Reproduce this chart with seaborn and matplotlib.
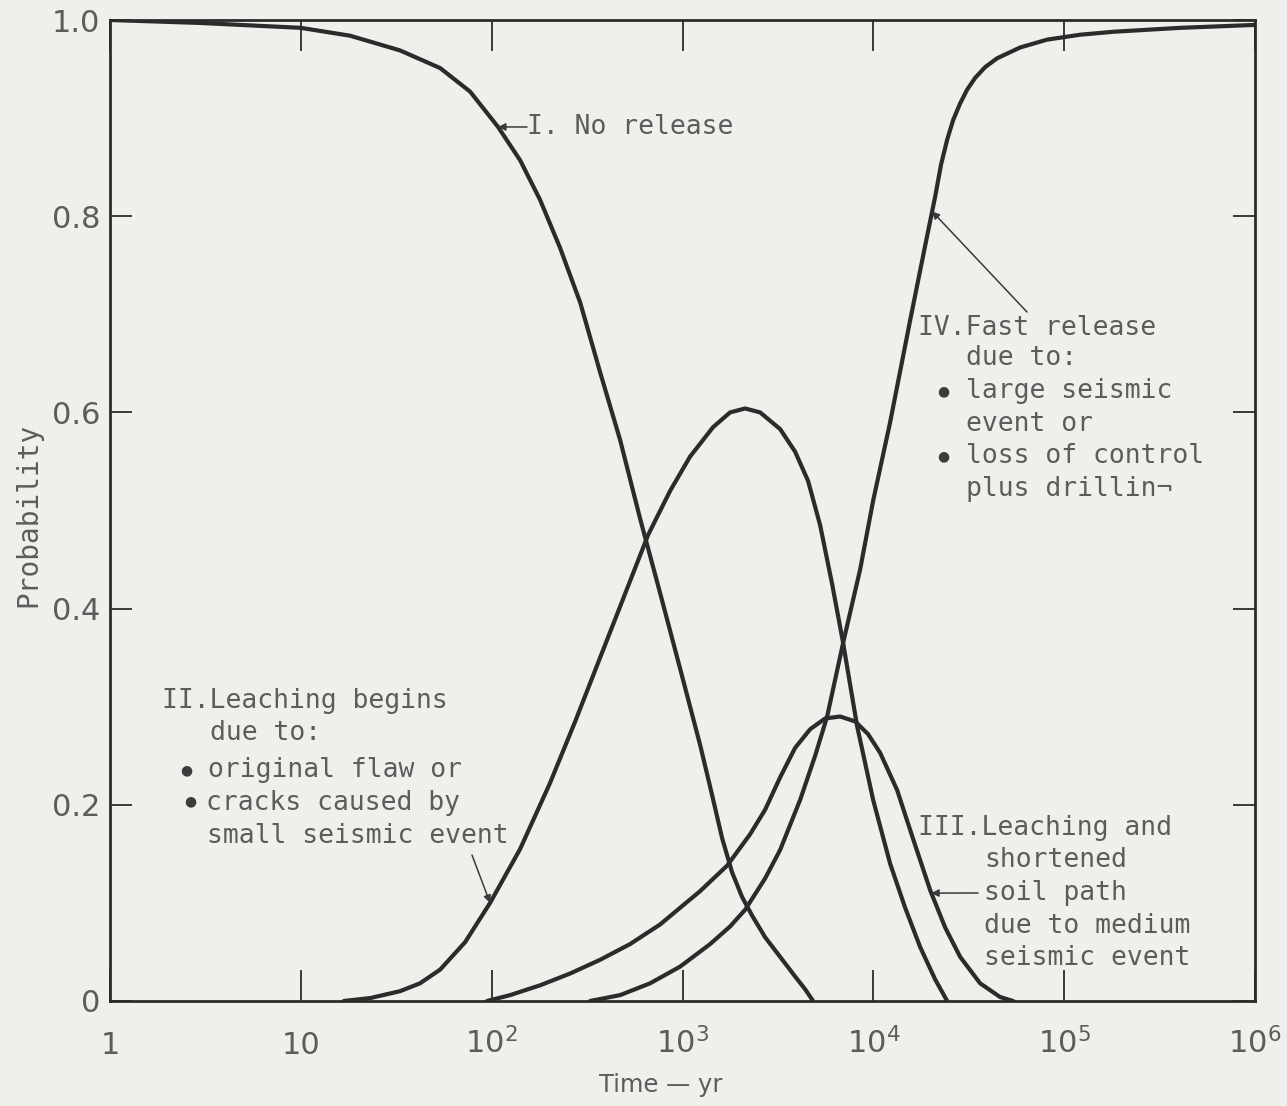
import matplotlib
matplotlib.use("Agg")
import matplotlib.pyplot as plt
import seaborn as sns
import pandas as pd

# ---------------- data ----------------
t_no_release = [1, 2.96, 10, 18.1, 33.1, 53.7, 77.1, 108, 141, 179, 228, 291, 370,
                471, 599, 763, 971, 1237, 1429, 1613, 1820, 2053, 2317, 2710, 3248,
                3891, 4391, 4835]
p_no_release = [1.0, 0.997, 0.992, 0.984, 0.969, 0.951, 0.927, 0.891, 0.857, 0.817,
                0.768, 0.712, 0.641, 0.572, 0.492, 0.416, 0.339, 0.261, 0.21, 0.166,
                0.131, 0.106, 0.087, 0.065, 0.045, 0.025, 0.012, 0.0]

t_leaching = [16.8, 23.1, 33.1, 42.1, 53.7, 72.6, 98.1, 141, 202, 274, 370, 500, 660,
              861, 1096, 1447, 1776, 2129, 2551, 3248, 3891, 4553, 5263, 6083, 6945,
              8226, 9977, 12248, 14685, 17593, 21087, 24373]
p_leaching = [0.0, 0.003, 0.01, 0.018, 0.032, 0.06, 0.10, 0.155, 0.222, 0.285, 0.35,
              0.415, 0.475, 0.52, 0.555, 0.585, 0.60, 0.604, 0.60, 0.583, 0.56, 0.53,
              0.485, 0.425, 0.365, 0.28, 0.205, 0.14, 0.095, 0.055, 0.022, 0.0]

t_shortened = [94.6, 124.9, 179.4, 257.6, 370, 531, 763, 971, 1237, 1713, 2261, 2710,
               3248, 3891, 4664, 5590, 6699, 8026, 9391, 10855, 13328, 16170, 19851,
               23782, 28507, 36280, 46194, 54043]
p_shortened = [0.0, 0.006, 0.016, 0.028, 0.042, 0.058, 0.078, 0.095, 0.112, 0.138,
               0.17, 0.195, 0.228, 0.258, 0.277, 0.288, 0.29, 0.285, 0.272, 0.253,
               0.215, 0.165, 0.113, 0.075, 0.045, 0.018, 0.004, 0.0]

t_fast = [327.9, 471, 676, 971, 1395, 1776, 2129, 2710, 3248, 4134, 4955, 5727, 6945,
          8530, 9977, 12248, 15596, 18690, 21087, 22660, 24373, 26190, 28507, 31015,
          34160, 38550, 44560, 58803, 81460, 121340, 180650, 405500, 1000000]
p_fast = [0.0, 0.006, 0.018, 0.035, 0.058, 0.076, 0.093, 0.125, 0.154, 0.205, 0.25,
          0.29, 0.365, 0.44, 0.51, 0.59, 0.694, 0.77, 0.82, 0.853, 0.878, 0.898,
          0.915, 0.929, 0.941, 0.952, 0.961, 0.972, 0.98, 0.985, 0.988, 0.992, 0.995]

curve_names = ["I", "II", "III", "IV"]

y_ticks = [0, 0.2, 0.4, 0.6, 0.8, 1.0]
y_ticklabels = ["0", "0.2", "0.4", "0.6", "0.8", "1.0"]
x_ticks = [1, 10, 100, 1000, 10000, 100000, 1000000]
x_ticklabels = ["1", "10", r"$\mathregular{10^2}$", r"$\mathregular{10^3}$",
                r"$\mathregular{10^4}$", r"$\mathregular{10^5}$", r"$\mathregular{10^6}$"]

# ---------------- styling ----------------
sns.set_style("ticks")
plt.rcParams["font.family"] = ["DejaVu Sans"]

BG = "#efefec"
INK = "#2b2b2b"
TXT = "#5c5c5c"
MONO = "DejaVu Sans Mono"

W, H = 1287, 1106
fig = plt.figure(figsize=(W / 100, H / 100), dpi=100, facecolor=BG)
ax = fig.add_axes([110 / W, 1 - 1001 / H, (1255 - 110) / W, (1001 - 20) / H])
ax.set_facecolor(BG)

df = pd.concat([
    pd.DataFrame({"t": t_no_release, "p": p_no_release, "curve": "I"}),
    pd.DataFrame({"t": t_leaching, "p": p_leaching, "curve": "II"}),
    pd.DataFrame({"t": t_shortened, "p": p_shortened, "curve": "III"}),
    pd.DataFrame({"t": t_fast, "p": p_fast, "curve": "IV"}),
])

sns.lineplot(data=df, x="t", y="p", hue="curve", units="curve", estimator=None,
             palette={c: INK for c in curve_names}, linewidth=3.0, sort=False,
             legend=False, ax=ax)
for ln in ax.get_lines():
    ln.set_solid_joinstyle("round")
    ln.set_solid_capstyle("round")

ax.set_xscale("log")
ax.set_xlim(1, 1e6)
ax.set_ylim(0, 1.0)
ax.minorticks_off()
ax.set_xticks(x_ticks)
ax.set_xticklabels(x_ticklabels)
ax.set_yticks(y_ticks)
ax.set_yticklabels(y_ticklabels)

for s in ax.spines.values():
    s.set_color(INK)
    s.set_linewidth(2.0)

ax.tick_params(axis="x", which="both", direction="in", length=22, width=1.3,
               colors=INK, top=True, bottom=True, pad=38, labelsize=22,
               labelcolor=TXT)
ax.tick_params(axis="y", which="both", direction="in", length=16, width=1.3,
               colors=INK, left=True, right=True, pad=7, labelsize=22,
               labelcolor=TXT)
for lab in ax.get_xticklabels():
    lab.set_verticalalignment("baseline")

ax.set_xlabel("Time — yr", fontsize=17.5, color=TXT)
ax.xaxis.set_label_coords((661 - 110) / (1255 - 110), -(1085 - 1001) / (1001 - 20))
ax.xaxis.label.set_verticalalignment("center")
ax.set_ylabel("Probability", fontsize=20, color=TXT, family=MONO)
ax.yaxis.set_label_coords(-(110 - 28) / (1255 - 110), (1001 - 515) / (1001 - 20))
ax.yaxis.label.set_verticalalignment("center")


# ---------------- annotations ----------------
def fx(x):
    return x / W


def fy(y):
    return 1 - y / H


def mono(x, y, s):
    fig.text(fx(x), fy(y), s, fontsize=19, family=MONO, color=TXT,
             ha="left", va="center")


def bullet(x, y):
    fig.text(fx(x), fy(y), "●", fontsize=10, color="#3c3c3c",
             ha="center", va="center")


mono(527, 127, "I. No release")

mono(162, 701, "II.Leaching begins")
mono(210, 733, "due to:")
mono(208, 770, "original flaw or")
mono(206, 803, "cracks caused by")
mono(207, 836, "small seismic event")
bullet(186, 770)
bullet(190, 801)

mono(918, 828, "III.Leaching and")
mono(984, 860, "shortened")
mono(984, 893, "soil path")
mono(984, 926, "due to medium")
mono(984, 958, "seismic event")

mono(918, 328, "IV.Fast release")
mono(966, 358, "due to:")
mono(966, 391, "large seismic")
mono(966, 424, "event or")
mono(966, 456, "loss of control")
mono(966, 489, "plus drillin¬")
bullet(943, 391)
bullet(943, 456)

arrow = dict(arrowstyle="-|>", color="#3a3a3a", lw=1.1, mutation_scale=11,
             shrinkA=0, shrinkB=0)
# (target on curve in data coords, tail in figure pixels)
ax.annotate("", xy=(108, 0.891), xycoords="data",
            xytext=(527, H - 127), textcoords="figure pixels", arrowprops=arrow)
ax.annotate("", xy=(98.1, 0.10), xycoords="data",
            xytext=(472, H - 855), textcoords="figure pixels", arrowprops=arrow)
ax.annotate("", xy=(20100, 0.110), xycoords="data",
            xytext=(978, H - 893), textcoords="figure pixels", arrowprops=arrow)
ax.annotate("", xy=(20300, 0.805), xycoords="data",
            xytext=(1027, H - 312), textcoords="figure pixels", arrowprops=arrow)

fig.savefig("out.png", dpi=100, facecolor=BG)
